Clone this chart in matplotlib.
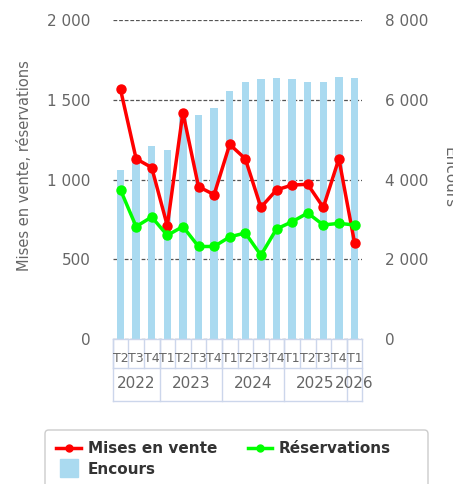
import numpy as np
import matplotlib
matplotlib.use("Agg")
import matplotlib.pyplot as plt
from matplotlib.lines import Line2D
from matplotlib.patches import FancyBboxPatch
from matplotlib.ticker import FuncFormatter

# Data
quarters = ["T2", "T3", "T4", "T1", "T2", "T3", "T4", "T1", "T2", "T3", "T4",
            "T1", "T2", "T3", "T4", "T1"]
years = ["2022", "2023", "2024", "2025", "2026"]
year_counts = [3, 4, 4, 4, 1]
mises = [1565, 1130, 1075, 710, 1420, 955, 905, 1220, 1130, 825, 935, 965, 970, 825, 1130, 605]
reservations = [935, 705, 765, 650, 705, 580, 580, 640, 665, 525, 690, 735, 790, 715, 725, 715]
encours = [4240, 4610, 4840, 4750, 5600, 5630, 5800, 6220, 6440, 6510, 6540, 6510, 6440, 6440, 6570, 6540]

W, H = 453, 484
fig = plt.figure(figsize=(W / 100, H / 100), dpi=100)
ax = fig.add_axes([112.7 / W, 1 - 339 / H, 249.6 / W, 319 / H])
axr = ax.twinx()
ax.set_zorder(axr.get_zorder() + 1)
ax.patch.set_visible(False)

x = np.arange(len(quarters))
grey = "#666666"
boxc = "#ccd6eb"

# Encours bars on the right axis
axr.bar(x, encours, width=0.47, color="#aadaf0", zorder=2)
axr.set_ylim(0, 8000)
axr.set_yticks([0, 2000, 4000, 6000, 8000])
axr.grid(axis="y", color="#555555", linestyle=(0, (3, 1.5)), linewidth=0.9, zorder=0)
axr.set_axisbelow(True)

# Lines on the left axis
ax.plot(x, mises, color="#ff0000", lw=2.5, marker="o", ms=6.5, zorder=3)
ax.plot(x, reservations, color="#00ff00", lw=2.5, marker="o", ms=6.5, zorder=3)
ax.set_ylim(0, 2000)
ax.set_yticks([0, 500, 1000, 1500, 2000])
ax.set_xlim(-0.5, len(quarters) - 0.5)

fmt = FuncFormatter(lambda v, p: f"{int(v):,}".replace(",", " "))
for a in (ax, axr):
    a.yaxis.set_major_formatter(fmt)
    a.tick_params(axis="y", length=0, pad=16, labelsize=11, labelcolor=grey)
    a.set_xticks([])
    for s in a.spines.values():
        s.set_visible(False)

ax.set_ylabel("Mises en vente, réservations", fontsize=10.5, color=grey)
ax.yaxis.set_label_coords(-0.322, 0.545)
fig.text(449 / W, 1 - 178 / H, "Encours", rotation=270, fontsize=11, color=grey,
         ha="center", va="center")

# Two-level category axis
tr = ax.get_xaxis_transform()
r1, r2 = -0.091, -0.194
for yy in (0, r1, r2):
    ax.plot([-0.5, len(quarters) - 0.5], [yy, yy], color=boxc, lw=1, transform=tr, clip_on=False)
for i, q in enumerate(quarters):
    ax.text(i, -0.06, q, transform=tr, ha="center", va="center", fontsize=9, color=grey)
    ax.plot([i - 0.5, i - 0.5], [0, r1], color=boxc, lw=1, transform=tr, clip_on=False)
start = 0
for yr, n in zip(years, year_counts):
    ax.text(start + (n - 1) / 2, -0.138, yr, transform=tr, ha="center", va="center",
            fontsize=11, color=grey)
    ax.plot([start - 0.5, start - 0.5], [0, r2], color=boxc, lw=1, transform=tr, clip_on=False)
    start += n
ax.plot([start - 0.5, start - 0.5], [0, r2], color=boxc, lw=1, transform=tr, clip_on=False)

# Legend box and entries
box = FancyBboxPatch((45 / W, -0.05), 383 / W, (1 - 430 / H) + 0.05,
                     boxstyle="round,pad=0,rounding_size=0.008", transform=fig.transFigure,
                     facecolor="white", edgecolor="#cccccc", lw=1)
fig.patches.append(box)
handles = [
    Line2D([], [], color="#ff0000", lw=2.5, marker="o", ms=5),
    Line2D([], [], color="#aadaf0", lw=0, marker="s", ms=13),
    Line2D([], [], color="#00ff00", lw=2.5, marker="o", ms=5),
]
labels = ["Mises en vente", "Encours", "Réservations"]
fig.legend(handles, labels, ncol=2, loc="upper left",
           bbox_to_anchor=(45 / W, 1 - 430 / H), borderaxespad=0, frameon=False,
           prop={"weight": "bold", "size": 11}, labelcolor="#333333",
           handlelength=1.6, handletextpad=0.45, columnspacing=2.0,
           labelspacing=0.35, borderpad=0.75)

fig.savefig("out.png", dpi=100)
